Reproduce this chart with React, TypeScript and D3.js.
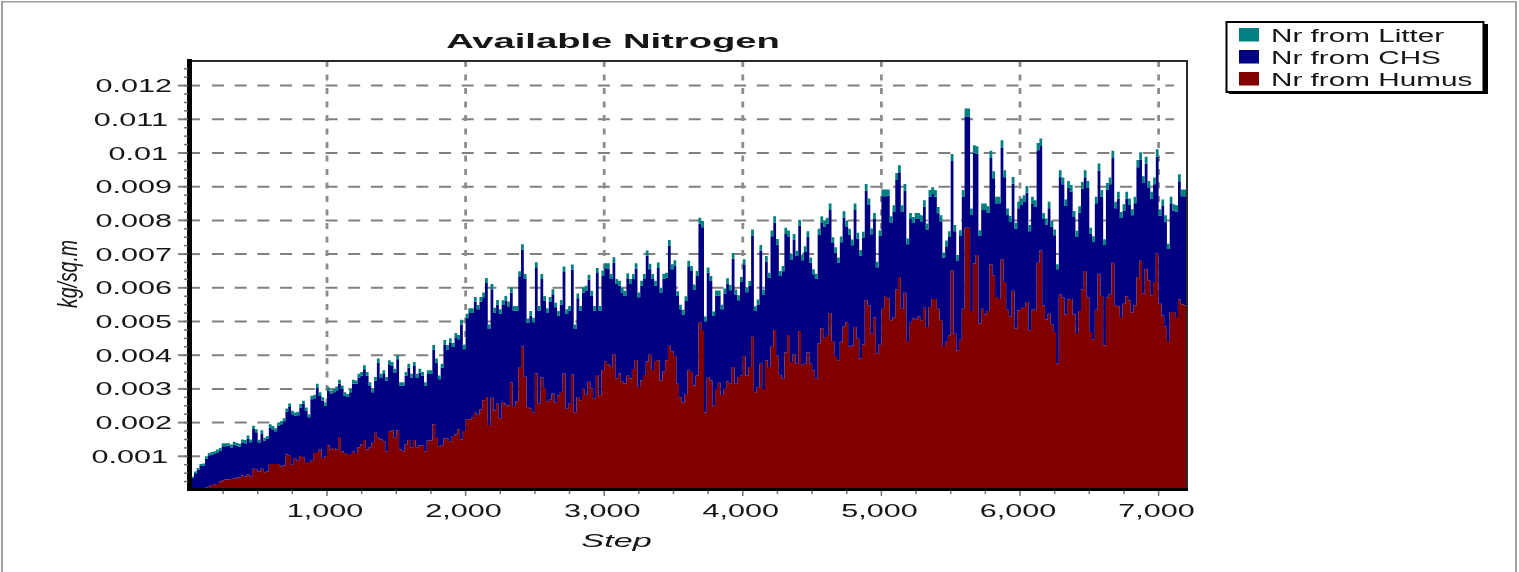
import React from 'react';
import * as d3 from 'd3';

const total = [
  20,40,55,65,77,79,100,110,113,115, 120,125,139,139,139,135,143,140,137,150,
  148,162,150,191,180,149,177,155,160,195, 190,183,200,205,213,242,257,235,230,232,
  255,265,245,225,280,283,315,290,275,260, 305,295,300,307,327,310,290,285,300,327,
  325,345,350,370,350,320,300,335,390,345, 355,335,385,380,360,400,320,320,350,375,
  345,380,345,360,350,320,355,355,430,390, 340,375,445,430,450,436,466,460,505,431,
  523,539,539,573,549,573,586,629,491,611, 541,564,536,563,576,559,601,546,546,649,
  729,641,509,531,511,676,546,641,576,539, 573,596,556,531,564,663,536,546,669,491,
  583,546,601,606,639,591,546,659,546,651, 673,673,641,691,626,621,601,591,643,626,
  641,673,586,621,641,711,671,641,621,675, 600,642,645,742,670,682,590,550,535,575,
  680,665,610,650,808,798,515,660,635,530, 592,592,550,598,628,608,703,595,578,632,
  685,602,620,773,545,565,727,595,694,645, 770,812,745,650,665,778,770,700,760,710,
  802,698,723,768,690,655,642,775,812,800, 808,850,750,720,690,752,827,800,775,743,
  850,763,712,766,908,865,776,822,677,771, 892,892,892,812,845,941,964,845,908,746,
  822,810,822,822,815,860,791,890,898,890, 840,815,705,740,768,997,786,697,771,890,
  1132,1132,835,1023,1020,771,850,850,842,1007, 946,870,870,1038,949,835,813,929,793,855,
  865,875,902,786,870,860,1030,1043,822,806, 855,799,773,670,949,927,862,917,905,828,
  769,842,914,949,917,778,753,870,969,890, 744,911,927,1007,855,885,825,848,885,865,
  833,870,979,1002,931,989,917,885,927,1011, 832,862,815,731,870,848,845,937,892,892,
];
const humus = [
  0,0,0,0,0,5,7,10,15,17, 18,25,29,31,31,33,35,37,37,43,
  40,47,40,63,60,55,63,53,55,77, 77,77,77,70,73,105,103,75,93,87,
  101,97,83,83,87,110,113,120,95,100, 133,120,125,120,157,115,110,107,107,115,
  110,127,135,148,120,127,140,170,155,150, 145,115,173,177,155,177,120,115,135,148,
  127,148,127,133,133,115,147,147,195,157, 130,133,153,153,145,160,165,180,150,175,
  211,209,216,229,223,239,266,276,193,274, 236,256,213,261,253,251,319,249,263,363,
  426,336,246,241,229,346,256,334,303,263, 268,286,259,281,291,346,241,256,343,231,
  276,266,301,283,321,301,271,341,281,356, 381,373,366,403,331,346,321,316,339,331,
  359,386,306,326,341,381,403,356,383,385, 325,352,385,428,412,398,315,275,260,285,
  355,350,310,340,498,475,230,335,325,250, 300,318,282,300,323,315,365,315,335,340,
  398,340,365,455,290,305,375,300,385,365, 425,475,398,342,330,408,460,380,403,375,
  472,372,375,408,375,355,330,435,480,452, 460,525,442,398,385,440,485,498,425,429,
  484,449,390,432,563,548,464,512,405,432, 538,576,568,504,512,595,632,538,585,442,
  496,509,507,515,504,541,484,543,567,567, 538,504,427,440,459,652,464,414,446,538,
  778,778,531,672,697,494,538,521,531,670, 637,573,567,684,617,535,515,591,479,533,
  538,543,558,474,535,535,674,711,548,506, 523,492,469,375,581,571,521,565,567,521,
  466,531,595,650,571,469,446,535,642,576, 429,571,581,674,548,545,513,553,575,563,
  527,548,632,680,583,655,622,578,617,702, 553,518,486,442,528,528,513,565,551,548,
];
const litter = [
  3,4,5,5,6,6,7,7,8,8, 8,8,9,9,8,9,9,8,9,9,
  9,9,8,10,9,8,9,8,9,10, 10,9,10,10,9,10,11,10,9,10,
  11,10,9,9,11,11,12,11,10,10, 10,9,10,11,11,10,10,9,10,11,
  10,11,11,12,11,10,10,11,12,11, 11,10,12,12,11,12,10,10,11,12,
  11,12,11,11,11,10,11,11,13,12, 11,12,13,13,13,12,13,13,14,13,
  13,14,14,14,13,14,14,15,13,15, 14,14,13,14,14,14,15,14,14,15,
  16,15,13,14,13,15,14,15,14,14, 14,15,14,14,14,16,14,14,15,13,
  14,14,15,15,15,15,14,15,14,15, 15,16,15,16,15,15,15,15,15,15,
  15,16,14,15,15,16,16,15,15,16, 14,15,15,17,15,16,14,14,14,14,
  16,15,15,15,18,18,14,15,15,14, 15,15,14,15,15,15,17,15,15,15,
  16,15,15,18,14,15,17,15,16,15, 17,18,17,15,16,18,17,16,17,16,
  18,16,17,17,16,15,15,18,19,18, 18,19,17,16,16,17,19,18,17,17,
  19,17,16,17,20,19,17,18,16,17, 20,20,19,18,19,21,21,19,20,17,
  18,18,18,18,18,19,18,20,20,20, 19,18,16,17,17,21,18,16,17,20,
  24,24,19,22,22,17,19,19,19,22, 21,19,19,22,21,19,18,20,18,19,
  19,19,20,18,19,19,22,22,18,18, 19,18,17,15,21,20,19,20,20,18,
  17,19,20,21,20,17,17,19,21,20, 17,20,20,22,19,20,18,19,20,19,
  18,19,21,22,20,21,20,20,20,22, 18,19,18,16,19,19,19,21,20,20,
];

const xTicks = [1000, 2000, 3000, 4000, 5000, 6000, 7000];
const yTicks = [0.001, 0.002, 0.003, 0.004, 0.005, 0.006, 0.007, 0.008, 0.009, 0.01, 0.011, 0.012];
const seriesKeys = ['humus', 'chs', 'litter'];
const seriesColors = { litter: '#008080', chs: '#000080', humus: '#800000' };
const legendItems = [
  { key: 'litter', label: 'Nr from Litter' },
  { key: 'chs', label: 'Nr from CHS' },
  { key: 'humus', label: 'Nr from Humus' },
];

const stepSize = 20;
const unit = 0.00001;
const left = 188.4;
const right = 1187;
const top = 61;
const bottom = 489;
const stretch = 1.7;
const font = '"Liberation Sans", Arial, sans-serif';
const ink = '#141414';

const x = d3.scaleLinear().domain([0, 7000]).range([left, 1158.6]);
const y = d3.scaleLinear().domain([0, 0.012]).range([490, 85.6]);

const rows = total.map((t, i) => ({
  step: i * stepSize,
  humus: humus[i] * unit,
  chs: (t - humus[i] - litter[i]) * unit,
  litter: litter[i] * unit,
}));
// one more row so the last bar gets its width
rows.push({ ...rows[rows.length - 1], step: rows.length * stepSize });

const layers = d3.stack().keys(seriesKeys)(rows);
const area = d3.area()
  .curve(d3.curveStepAfter)
  .x((d) => x(d.data.step))
  .y0((d) => y(d[0]))
  .y1((d) => y(d[1]));

const xMinor = d3.range(250, 7200, 250).filter((v) => v % 1000 !== 0);
const yMinor = d3.range(0.00025, 0.0127, 0.00025);
const fmtX = d3.format(',');

// the whole picture was widened, so text is drawn stretched sideways
const Wide = ({ px, py, anchor = 'start', size = 18, sx = stretch, weight = 'normal', italic = false, children }) => (
  <text
    transform={`translate(${px},${py}) scale(${sx},1)`}
    textAnchor={anchor}
    fontSize={size}
    fontWeight={weight}
    fontStyle={italic ? 'italic' : 'normal'}
    fontFamily={font}
    fill={ink}
  >
    {children}
  </text>
);

export default function App() {
  return (
    <svg width={1519} height={572} style={{ position: 'absolute', left: 0, top: 0, display: 'block' }}>
      <defs>
        <filter id="soft" x="0" y="0" width="100%" height="100%">
          <feGaussianBlur stdDeviation="0.6" />
        </filter>
      </defs>
      <rect width={1519} height={572} fill="#ffffff" />
      <g filter="url(#soft)">
        {/* window edge */}
        <path d="M1.5,572V1H1516.5V572" fill="none" stroke="#a0a0a0" strokeWidth={3} />

        {/* grid */}
        {yTicks.map((t) => (
          <g key={t} stroke="#808080" strokeWidth={2}>
            <line x1={178} x2={200} y1={y(t)} y2={y(t)} />
            <line x1={212} x2={1174} y1={y(t)} y2={y(t)} strokeDasharray="12 10.7" />
          </g>
        ))}
        {xTicks.map((t) => (
          <line key={t} x1={x(t)} x2={x(t)} y1={top} y2={bottom} stroke="#8c8c8c" strokeWidth={2.8} strokeDasharray="6 7.5" />
        ))}

        {/* stacked bars */}
        {layers.map((layer) => (
          <path key={layer.key} d={area(layer)} fill={seriesColors[layer.key]} />
        ))}

        {/* frame */}
        <path d={`M${left},${top}H${right}V${bottom}`} fill="none" stroke="#2a2a2a" strokeWidth={2} />
        <line x1={189.5} x2={189.5} y1={59} y2={491} stroke="#000" strokeWidth={5} />
        <line x1={187} x2={1188} y1={489.5} y2={489.5} stroke="#000" strokeWidth={3} />

        {/* ticks */}
        {yMinor.map((t) => (
          <line key={t} x1={184} x2={188} y1={y(t)} y2={y(t)} stroke="#707070" strokeWidth={1.5} />
        ))}
        {xMinor.map((t) => (
          <line key={t} x1={x(t)} x2={x(t)} y1={491} y2={494} stroke="#707070" strokeWidth={1.5} />
        ))}
        {xTicks.map((t) => (
          <line key={t} x1={x(t)} x2={x(t)} y1={491} y2={496} stroke="#707070" strokeWidth={1.5} />
        ))}

        {/* tick labels, a trailing 1 sits further in */}
        {yTicks.map((t) => (
          <Wide key={t} px={String(t).endsWith('1') ? 168 : 172} py={y(t) + 6.5} anchor="end">{String(t)}</Wide>
        ))}
        {xTicks.map((t) => (
          <Wide key={t} px={x(t) - 2} py={516.5} anchor="middle">{fmtX(t)}</Wide>
        ))}

        {/* titles */}
        <Wide px={613} py={48} anchor="middle" size={20} sx={1.91} weight="bold">Available Nitrogen</Wide>
        <Wide px={616.5} py={547} anchor="middle" size={18} sx={1.9} italic>Step</Wide>
        <text
          transform="translate(77,274) scale(1.45,1) rotate(-90)"
          textAnchor="middle"
          fontSize={19.5}
          fontStyle="italic"
          fontFamily={font}
          fill={ink}
        >
          kg/sq.m
        </text>

        {/* legend */}
        <rect x={1229} y={24} width={259} height={70} fill="#000" />
        <rect x={1226.5} y={22} width={257} height={70} fill="#fff" stroke="#000" strokeWidth={2} />
        {legendItems.map((item, i) => (
          <g key={item.key}>
            <rect x={1239} y={28 + i * 22} width={20} height={13.5} fill={seriesColors[item.key]} />
            <Wide px={1271} py={42 + i * 22} size={18} sx={1.65}>{item.label}</Wide>
          </g>
        ))}
      </g>
    </svg>
  );
}
